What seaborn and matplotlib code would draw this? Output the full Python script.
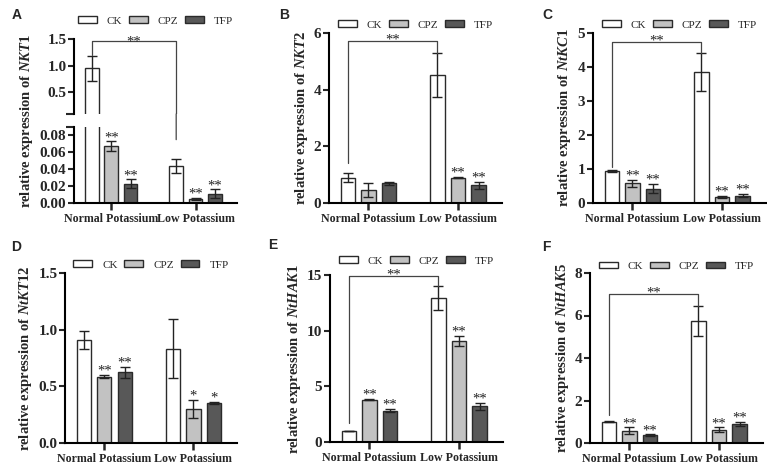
import matplotlib
matplotlib.use("Agg")
import matplotlib.pyplot as plt
import seaborn as sns
import pandas as pd
from matplotlib.patches import ConnectionPatch

groups = ["Normal Potassium", "Low Potassium"]
treatments = ["CK", "CPZ", "TFP"]
colors = {"CK": "#ffffff", "CPZ": "#c2c2c2", "TFP": "#585858"}

# rows: Normal, Low ; cols: CK, CPZ, TFP
nkt1_mean = [[0.95, 0.067, 0.023], [0.044, 0.005, 0.011]]
nkt1_sd = [[0.235, 0.006, 0.005], [0.008, 0.001, 0.005]]
nkt1_sig = [["", "**", "**"], ["", "**", "**"]]

nkt2_mean = [[0.90, 0.45, 0.70], [4.52, 0.90, 0.63]]
nkt2_sd = [[0.17, 0.25, 0.05], [0.78, 0.02, 0.12]]
nkt2_sig = [["", "", ""], ["", "**", "**"]]

ntkc1_mean = [[0.95, 0.58, 0.42], [3.86, 0.18, 0.22]]
ntkc1_sd = [[0.03, 0.10, 0.14], [0.56, 0.02, 0.05]]
ntkc1_sig = [["", "**", "**"], ["", "**", "**"]]

ntkt12_mean = [[0.91, 0.585, 0.625], [0.83, 0.30, 0.35]]
ntkt12_sd = [[0.08, 0.015, 0.05], [0.26, 0.08, 0.01]]
ntkt12_sig = [["", "**", "**"], ["", "*", "*"]]

nthak1_mean = [[1.0, 3.8, 2.8], [12.95, 9.1, 3.2]]
nthak1_sd = [[0.03, 0.04, 0.15], [1.1, 0.45, 0.3]]
nthak1_sig = [["", "**", "**"], ["", "**", "**"]]

nthak5_mean = [[1.0, 0.58, 0.38], [5.73, 0.62, 0.90]]
nthak5_sd = [[0.02, 0.15, 0.03], [0.70, 0.12, 0.08]]
nthak5_sig = [["", "**", "**"], ["", "**", "**"]]

sns.set_style("ticks")
plt.rcParams["font.family"] = ["Liberation Serif", "DejaVu Serif"]
plt.rcParams["font.weight"] = "bold"
plt.rcParams["mathtext.fontset"] = "custom"
plt.rcParams["mathtext.it"] = "Liberation Serif:italic:bold"
plt.rcParams["mathtext.rm"] = "Liberation Serif:bold"

W, H = 767, 466
fig = plt.figure(figsize=(W / 100, H / 100), dpi=100)


def px_axes(left, right, top, bottom):
    return fig.add_axes([left / W, 1 - bottom / H, (right - left) / W, (bottom - top) / H])


def draw_bars(ax, mean, sd, sig, legend, ymin=None):
    df = pd.DataFrame([
        {"group": g, "treatment": t, "value": mean[i][j]}
        for i, g in enumerate(groups) for j, t in enumerate(treatments)
    ])
    sns.barplot(data=df, x="group", y="value", hue="treatment", order=groups,
                hue_order=treatments, palette=colors, edgecolor="#2a2a2a",
                linewidth=1.0, width=0.69, gap=0.3, errorbar=None, ax=ax,
                legend=legend)
    bar_conts = list(ax.containers)
    xs = []
    for j, cont in enumerate(bar_conts):
        col = []
        for i, bar in enumerate(cont):
            x = bar.get_x() + bar.get_width() / 2
            col.append(x)
            # skip error bars that sit entirely below a broken axis piece
            if ymin is not None and mean[i][j] + sd[i][j] < ymin:
                continue
            ax.errorbar(x, mean[i][j], yerr=sd[i][j], fmt="none", ecolor="#222222",
                        elinewidth=1.0, capsize=3.5, capthick=1.0)
            if sig is not None and sig[i][j]:
                ax.annotate(sig[i][j], (x, mean[i][j] + sd[i][j]), xytext=(0, -2),
                            textcoords="offset points", ha="center", va="bottom",
                            fontsize=10.5, fontweight="normal", color="#222222")
        xs.append(col)
    return xs


def style(ax, ylim, yticks, fmt):
    ax.set_ylim(*ylim)
    ax.set_xlim(-0.44, 1.49)
    ax.set_yticks(yticks)
    ax.set_yticklabels([fmt.format(v) for v in yticks])
    ax.set_xlabel("")
    ax.set_ylabel("")
    sns.despine(ax=ax)
    for s in ["left", "bottom"]:
        ax.spines[s].set_linewidth(1.5)
        ax.spines[s].set_color("black")
    ax.tick_params(axis="y", width=1.5, length=4, labelsize=11, pad=1.5)
    ax.tick_params(axis="x", width=1.8, length=5, labelsize=8.6, pad=2)
    for lab in ax.get_xticklabels() + ax.get_yticklabels():
        lab.set_fontweight("bold")


def add_legend(ax, yfrac):
    sns.move_legend(ax, "center", bbox_to_anchor=(0.5, yfrac), ncol=3, frameon=False,
                    title=None, fontsize=8, handlelength=1.7, handleheight=0.5,
                    handletextpad=0.9, columnspacing=0.6)
    for t in ax.get_legend().get_texts():
        t.set_fontweight("normal")


def bracket(ax, x1, x2, y_line, y_left, y_right, text="**"):
    ax.plot([x1, x1, x2, x2], [y_left, y_line, y_line, y_right], color="#444444",
            lw=0.9, clip_on=False)
    ax.annotate(text, ((x1 + x2) / 2, y_line), xytext=(0, -4), textcoords="offset points",
                ha="center", va="bottom", fontsize=10.5, fontweight="normal", color="#222222")


# ---- A: broken axis
ax_top = px_axes(74, 237, 39, 114)
ax_bot = px_axes(74, 237, 127, 203)
draw_bars(ax_top, nkt1_mean, nkt1_sd, None, True, ymin=0.085)
xs = draw_bars(ax_bot, nkt1_mean, nkt1_sd, nkt1_sig, False)
style(ax_top, (0.085, 1.5), [0.5, 1.0, 1.5], "{:.1f}")
style(ax_bot, (0, 0.09), [0, 0.02, 0.04, 0.06, 0.08], "{:.2f}")
ax_top.spines["bottom"].set_visible(False)
ax_top.tick_params(axis="x", bottom=False, labelbottom=False)
# break marks at the ends of the two spine pieces
ax_top.set_yticks([0.085], minor=True)
ax_bot.set_yticks([0.09], minor=True)
for a in (ax_top, ax_bot):
    a.tick_params(axis="y", which="minor", length=6, width=1.5, labelleft=False)
add_legend(ax_top, 1.24)
x1, x2 = xs[0][0], xs[0][1]
ax_top.plot([x1, x1, x2, x2], [1.2, 1.47, 1.47, 0.085], color="#444444", lw=0.9)
ax_top.annotate("**", ((x1 + x2) / 2, 1.47), xytext=(0, -6), textcoords="offset points",
                ha="center", va="bottom", fontsize=10.5, fontweight="normal", color="#222222")
con = ConnectionPatch(xyA=(x2, 0.085), coordsA=ax_top.transData, xyB=(x2, 0.075),
                      coordsB=ax_bot.transData, color="#444444", lw=0.9)
fig.add_artist(con)
fig.text(27 / W, 1 - 121 / H, "relative expression of $\\mathit{NKT1}$", rotation=90,
         ha="center", va="center", fontsize=10.5, fontweight="bold")

panels = [
    # (left, right, top, bottom, mean, sd, sig, ylim, ticks, fmt, gene, legend y, bracket)
    (329, 502, 33, 203, nkt2_mean, nkt2_sd, nkt2_sig, (0, 6), [0, 2, 4, 6], "{:.0f}",
     "NKT2", 1.047, (5.72, 1.4, 5.3)),
    (593, 766, 33, 203, ntkc1_mean, ntkc1_sd, ntkc1_sig, (0, 5), [0, 1, 2, 3, 4, 5], "{:.0f}",
     "NtKC1", 1.047, (4.73, 1.05, 4.42)),
    (65, 237, 273, 443, ntkt12_mean, ntkt12_sd, ntkt12_sig, (0, 1.5), [0, 0.5, 1.0, 1.5], "{:.1f}",
     "NtKT12", 1.047, None),
    (330, 503, 275, 442, nthak1_mean, nthak1_sd, nthak1_sig, (0, 15), [0, 5, 10, 15], "{:.0f}",
     "NtHAK1", 1.084, (14.9, 1.7, 14.05)),
    (590, 763, 273, 443, nthak5_mean, nthak5_sd, nthak5_sig, (0, 8), [0, 2, 4, 6, 8], "{:.0f}",
     "NtHAK5", 1.04, (7.0, 1.3, 6.45)),
]

for (l, r, t, b, mean, sd, sig, ylim, ticks, fmt, gene, ly, br) in panels:
    ax = px_axes(l, r, t, b)
    xs = draw_bars(ax, mean, sd, sig, True)
    style(ax, ylim, ticks, fmt)
    add_legend(ax, ly)
    ax.set_ylabel("relative expression of $\\mathit{" + gene + "}$", fontsize=10.5,
                  fontweight="bold", labelpad=3)
    if br is not None:
        bracket(ax, xs[0][0], xs[0][1], *br)

letters = [("A", 12, 15), ("B", 279, 15), ("C", 542, 15),
           ("D", 11, 247), ("E", 268, 245), ("F", 542, 247)]
for s, x, y in letters:
    fig.text(x / W, 1 - y / H, s, family="Liberation Sans", fontweight="bold",
             fontsize=10, ha="left", va="center")

fig.savefig("out.png", dpi=100)
